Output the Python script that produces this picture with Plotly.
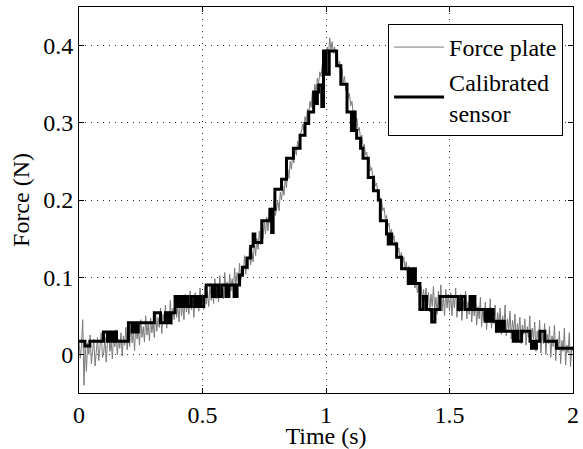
import numpy as np
import plotly.graph_objects as go

# force plate samples, every 5 ms from 0 to 2 s
force_plate = [
    0.018, -0.005, 0.012, 0.045, -0.040, 0.010, -0.022, 0.015, 0.000, 0.025,
    -0.012, 0.008, 0.020, -0.015, 0.005, 0.022, -0.008, 0.012, 0.028, -0.004,
    0.002, 0.022, -0.010, 0.015, 0.030, 0.004, 0.018, -0.006, 0.025, 0.010,
    0.032, 0.000, 0.020, 0.008, 0.028, -0.002, 0.024, 0.012, 0.035, 0.006,
    0.026, 0.010, 0.038, 0.015, 0.030, 0.005, 0.042, 0.020, 0.033, 0.012,
    0.045, 0.022, 0.036, 0.016, 0.050, 0.025, 0.040, 0.018, 0.047, 0.028,
    0.042, 0.022, 0.055, 0.030, 0.048, 0.035, 0.060, 0.027, 0.052, 0.040,
    0.064, 0.034, 0.056, 0.044, 0.070, 0.038, 0.060, 0.045, 0.066, 0.048,
    0.062, 0.042, 0.074, 0.050, 0.066, 0.045, 0.078, 0.055, 0.070, 0.052,
    0.082, 0.058, 0.072, 0.048, 0.080, 0.060, 0.075, 0.056, 0.086, 0.062,
    0.078, 0.058, 0.088, 0.065, 0.080, 0.062, 0.092, 0.070, 0.084, 0.066,
    0.098, 0.072, 0.088, 0.068, 0.102, 0.076, 0.090, 0.072, 0.106, 0.080,
    0.094, 0.075, 0.104, 0.082, 0.098, 0.080, 0.112, 0.088, 0.106, 0.092,
    0.118, 0.096, 0.112, 0.100, 0.128, 0.104, 0.122, 0.110, 0.138, 0.116,
    0.132, 0.120, 0.145, 0.128, 0.150, 0.136, 0.160, 0.142, 0.166, 0.150,
    0.172, 0.156, 0.178, 0.160, 0.186, 0.168, 0.190, 0.174, 0.198, 0.180,
    0.190, 0.198, 0.186, 0.210, 0.200, 0.218, 0.206, 0.228, 0.216, 0.240,
    0.228, 0.250, 0.240, 0.258, 0.248, 0.268, 0.258, 0.276, 0.268, 0.285,
    0.288, 0.298, 0.290, 0.308, 0.300, 0.318, 0.310, 0.328, 0.320, 0.340,
    0.330, 0.350, 0.340, 0.358, 0.350, 0.366, 0.360, 0.376, 0.368, 0.385,
    0.380, 0.398, 0.388, 0.410, 0.395, 0.405, 0.390, 0.398, 0.382, 0.390,
    0.372, 0.380, 0.362, 0.370, 0.352, 0.360, 0.342, 0.348, 0.332, 0.338,
    0.322, 0.328, 0.312, 0.316, 0.300, 0.306, 0.290, 0.294, 0.278, 0.284,
    0.268, 0.272, 0.258, 0.262, 0.248, 0.252, 0.238, 0.242, 0.228, 0.232,
    0.218, 0.222, 0.208, 0.212, 0.196, 0.200, 0.186, 0.190, 0.176, 0.180,
    0.166, 0.170, 0.156, 0.162, 0.148, 0.154, 0.140, 0.146, 0.132, 0.138,
    0.124, 0.132, 0.118, 0.126, 0.110, 0.120, 0.104, 0.114, 0.098, 0.108,
    0.092, 0.102, 0.086, 0.096, 0.080, 0.092, 0.074, 0.088, 0.070, 0.084,
    0.068, 0.086, 0.060, 0.080, 0.055, 0.078, 0.062, 0.088, 0.058, 0.074,
    0.052, 0.082, 0.064, 0.090, 0.056, 0.076, 0.050, 0.084, 0.060, 0.078,
    0.056, 0.080, 0.050, 0.074, 0.060, 0.086, 0.048, 0.072, 0.055, 0.078,
    0.044, 0.070, 0.058, 0.082, 0.046, 0.068, 0.052, 0.076, 0.042, 0.066,
    0.050, 0.070, 0.038, 0.062, 0.046, 0.074, 0.036, 0.060, 0.044, 0.068,
    0.032, 0.056, 0.042, 0.072, 0.034, 0.058, 0.040, 0.064, 0.028, 0.054,
    0.038, 0.060, 0.026, 0.050, 0.034, 0.064, 0.024, 0.046, 0.032, 0.056,
    0.020, 0.044, 0.030, 0.052, 0.018, 0.040, 0.028, 0.048, 0.014, 0.038,
    0.026, 0.046, 0.012, 0.036, 0.022, 0.050, 0.008, 0.034, 0.020, 0.042,
    0.004, 0.030, 0.018, 0.044, 0.002, 0.028, 0.014, 0.040, 0.000, 0.026,
    0.014, 0.036, -0.004, 0.024, 0.010, 0.038, -0.008, 0.020, 0.006, 0.030,
    -0.012, 0.018, 0.004, 0.034, -0.014, 0.012, 0.002, 0.028, -0.016, 0.010,
    0.004,
]
plate_time = np.linspace(0, 2, len(force_plate))

# calibrated sensor: times where the held value changes, and the value
sensor_time = [
    0.000, 0.024, 0.044, 0.099, 0.115, 0.125, 0.135, 0.145, 0.152, 0.200,
    0.215, 0.225, 0.232, 0.240, 0.305, 0.330, 0.350, 0.360, 0.372, 0.389,
    0.400, 0.410, 0.420, 0.432, 0.442, 0.455, 0.468, 0.480, 0.492, 0.505,
    0.515, 0.540, 0.552, 0.565, 0.578, 0.595, 0.607, 0.628, 0.640, 0.650,
    0.662, 0.680, 0.695, 0.705, 0.712, 0.740, 0.773, 0.780, 0.786, 0.793,
    0.820, 0.840, 0.868, 0.895, 0.915, 0.930, 0.950, 0.958, 0.965, 0.970,
    0.983, 0.990, 1.000, 1.013, 1.043, 1.060, 1.085, 1.103, 1.110, 1.118,
    1.124, 1.140, 1.150, 1.171, 1.192, 1.212, 1.220, 1.245, 1.252, 1.259,
    1.266, 1.286, 1.306, 1.333, 1.340, 1.348, 1.356, 1.362, 1.380, 1.394,
    1.407, 1.428, 1.441, 1.461, 1.536, 1.549, 1.563, 1.583, 1.592, 1.597,
    1.603, 1.644, 1.652, 1.660, 1.668, 1.677, 1.690, 1.698, 1.704, 1.715,
    1.722, 1.758, 1.768, 1.778, 1.792, 1.826, 1.832, 1.840, 1.846, 1.852,
    1.866, 1.886, 1.933, 2.000,
]
sensor_force = [
    0.017, 0.011, 0.017, 0.029, 0.017, 0.029, 0.017, 0.029, 0.017, 0.041,
    0.029, 0.041, 0.029, 0.041, 0.054, 0.041, 0.054, 0.041, 0.054, 0.075,
    0.062, 0.075, 0.062, 0.075, 0.062, 0.075, 0.062, 0.075, 0.062, 0.075,
    0.090, 0.075, 0.090, 0.075, 0.090, 0.075, 0.090, 0.075, 0.090, 0.103,
    0.113, 0.125, 0.140, 0.156, 0.145, 0.173, 0.188, 0.158, 0.188, 0.214,
    0.227, 0.254, 0.267, 0.284, 0.299, 0.314, 0.340, 0.325, 0.340, 0.349,
    0.321, 0.393, 0.363, 0.393, 0.374, 0.350, 0.314, 0.290, 0.314, 0.290,
    0.280, 0.267, 0.254, 0.229, 0.212, 0.200, 0.173, 0.156, 0.143, 0.156,
    0.143, 0.126, 0.111, 0.092, 0.111, 0.092, 0.111, 0.092, 0.058, 0.075,
    0.058, 0.042, 0.058, 0.075, 0.058, 0.075, 0.058, 0.075, 0.058, 0.075,
    0.058, 0.043, 0.058, 0.043, 0.058, 0.043, 0.030, 0.043, 0.030, 0.043,
    0.030, 0.017, 0.030, 0.017, 0.030, 0.017, 0.008, 0.017, 0.008, 0.017,
    0.030, 0.017, 0.008, 0.008,
]

x_ticks = [0, 0.5, 1, 1.5, 2]
x_labels = ["0", "0.5", "1", "1.5", "2"]
y_ticks = [0, 0.1, 0.2, 0.3, 0.4]
y_labels = ["0", "0.1", "0.2", "0.3", "0.4"]

FONT = "Liberation Serif"

fig = go.Figure()
fig.add_trace(go.Scatter(
    x=plate_time, y=force_plate,
    mode="lines", name="Force plate",
    line=dict(color="#7a7a7a", width=1),
))
fig.add_trace(go.Scatter(
    x=sensor_time, y=sensor_force,
    mode="lines", name="Calibrated<br>sensor",
    line=dict(color="black", width=3, shape="hv"),
))

axis_common = dict(
    showline=True, linecolor="black", linewidth=1, mirror="ticks",
    ticks="inside", ticklen=5, tickcolor="black",
    showgrid=True, gridcolor="#333333", griddash="1px,5px", gridwidth=1,
    zeroline=False, automargin=False,
    tickfont=dict(family=FONT, size=24, color="black"),
)

fig.update_xaxes(
    range=[0, 2], tickvals=x_ticks, ticktext=x_labels,
    title=dict(text="Time (s)", font=dict(family=FONT, size=24, color="black"), standoff=0),
    **axis_common,
)
fig.update_yaxes(
    range=[-0.05, 0.45], tickvals=y_ticks, ticktext=y_labels,
    title=dict(text="Force (N)", font=dict(family=FONT, size=24, color="black"), standoff=6),
    **axis_common,
)

fig.update_layout(
    width=583, height=449,
    margin=dict(l=79, r=10, t=7, b=56),
    paper_bgcolor="white", plot_bgcolor="white",
    font=dict(family=FONT, size=24, color="black"),
    showlegend=True,
    legend=dict(
        x=0.98, y=0.956, xanchor="right", yanchor="top",
        bgcolor="white", bordercolor="black", borderwidth=1,
        font=dict(family=FONT, size=24, color="black"),
        tracegroupgap=0, itemwidth=50,
    ),
)

fig.write_html("out.html", config={"displayModeBar": False},
               post_script="document.body.style.margin = '0';")
